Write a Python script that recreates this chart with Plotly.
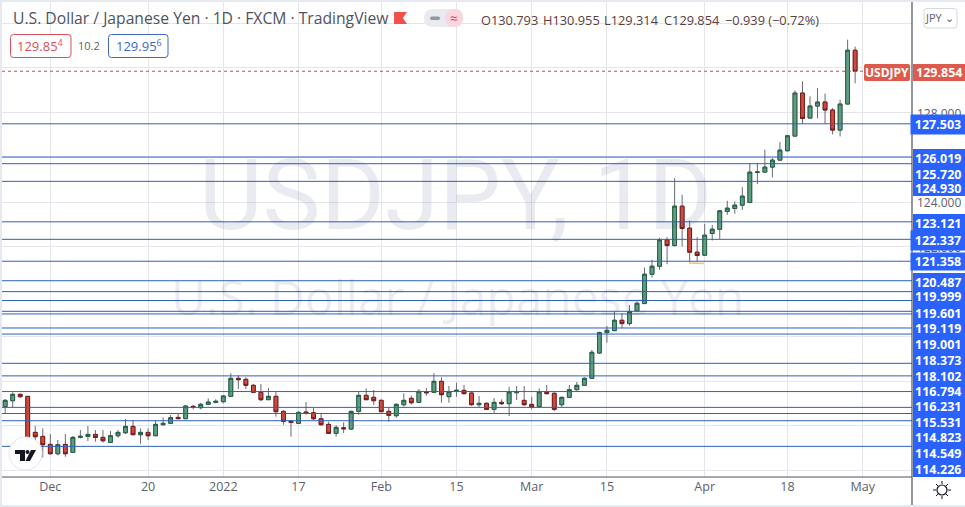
import pandas as pd
import plotly.graph_objects as go

dates = [d.strftime("%Y-%m-%d") for d in pd.bdate_range("2021-11-23", "2022-05-02")]

opens = [
    114.854, 115.122, 115.406, 115.316, 113.705, 113.526, 113.168, 112.750, 113.168, 112.810,
    113.481, 113.526, 113.615, 113.481, 113.257, 113.556, 113.690, 113.973, 113.600, 113.705,
    113.556, 114.048, 114.108, 114.376, 114.317, 114.869, 114.809, 114.958, 115.048, 115.078,
    115.316, 116.122, 116.077, 115.809, 115.495, 115.167, 115.316, 114.645, 114.212, 114.108,
    114.615, 114.585, 114.317, 114.063, 113.660, 113.914, 113.854, 114.645, 115.361, 115.272,
    115.137, 114.645, 114.451, 114.943, 115.227, 115.048, 115.510, 115.495, 115.988, 115.301,
    115.540, 115.585, 115.466, 114.943, 115.003, 114.734, 115.048, 114.988, 115.480, 115.137,
    114.958, 114.854, 115.495, 115.451, 114.943, 115.272, 115.615, 115.809, 116.122, 117.256,
    118.166, 118.256, 118.718, 118.569, 119.136, 119.464, 120.777, 121.135, 122.314, 122.060,
    123.821, 122.836, 121.762, 121.628, 122.597, 122.791, 123.582, 123.717, 123.866, 123.985,
    125.330, 125.343, 125.567, 125.880, 126.298, 126.954, 128.879, 127.760, 128.297, 128.476,
    128.118, 127.223, 128.387, 130.793,
]
highs = [
    115.197, 115.495, 115.451, 115.331, 113.988, 113.884, 113.630, 113.362, 113.630, 113.541,
    113.809, 113.988, 113.809, 113.809, 113.765, 113.809, 114.302, 114.257, 113.884, 113.884,
    114.257, 114.376, 114.481, 114.555, 114.913, 114.928, 115.033, 115.227, 115.182, 115.376,
    116.346, 116.271, 116.167, 115.868, 115.868, 115.689, 115.525, 114.690, 114.257, 114.645,
    115.063, 114.809, 114.526, 114.182, 114.033, 114.152, 114.675, 115.525, 115.674, 115.600,
    115.182, 114.809, 115.003, 115.451, 115.346, 115.630, 115.689, 116.346, 116.167, 115.779,
    115.928, 115.824, 115.495, 115.331, 115.048, 115.242, 115.182, 115.734, 115.779, 115.779,
    115.301, 115.674, 115.824, 115.495, 115.301, 115.824, 115.958, 116.167, 117.390, 118.211,
    118.464, 119.091, 119.031, 119.404, 119.554, 121.076, 121.419, 122.403, 122.433, 125.074,
    124.328, 123.179, 122.433, 123.030, 122.985, 123.657, 124.060, 124.030, 124.671, 125.746,
    125.746, 126.343, 125.970, 126.686, 127.014, 128.998, 129.401, 128.730, 129.103, 128.849,
    128.208, 128.581, 131.267, 130.955,
]
lows = [
    114.555, 114.824, 115.257, 113.287, 113.287, 112.586, 112.720, 112.675, 112.616, 112.810,
    113.436, 113.317, 113.287, 113.242, 113.242, 113.466, 113.630, 113.600, 113.198, 113.362,
    113.556, 114.003, 114.108, 114.302, 114.317, 114.734, 114.734, 114.958, 115.003, 115.003,
    115.301, 115.645, 115.645, 115.480, 115.092, 115.152, 114.406, 114.048, 113.511, 114.093,
    114.496, 114.257, 114.003, 113.630, 113.511, 113.675, 113.824, 114.496, 115.152, 114.928,
    114.630, 114.182, 114.361, 114.854, 114.943, 115.048, 115.346, 115.495, 115.033, 115.033,
    115.301, 115.406, 114.899, 114.824, 114.719, 114.570, 114.928, 114.436, 115.152, 114.884,
    114.734, 114.824, 115.406, 114.660, 114.824, 115.242, 115.570, 115.794, 116.107, 117.211,
    117.718, 118.226, 118.360, 118.479, 119.136, 119.464, 120.628, 120.971, 121.225, 122.016,
    122.016, 121.344, 121.344, 121.598, 122.284, 122.359, 123.433, 123.478, 123.657, 123.985,
    124.806, 125.343, 125.104, 125.850, 126.268, 126.954, 127.506, 127.745, 127.745, 127.506,
    127.029, 126.939, 128.387, 129.314,
]
closes = [
    115.137, 115.406, 115.301, 113.377, 113.511, 113.153, 112.750, 113.153, 112.750, 113.481,
    113.526, 113.615, 113.481, 113.332, 113.556, 113.705, 113.973, 113.600, 113.705, 113.556,
    114.063, 114.108, 114.361, 114.317, 114.884, 114.839, 114.958, 115.063, 115.092, 115.331,
    116.122, 116.062, 115.809, 115.495, 115.167, 115.316, 114.630, 114.197, 114.152, 114.600,
    114.555, 114.317, 114.048, 113.660, 113.929, 113.869, 114.645, 115.361, 115.167, 115.122,
    114.630, 114.466, 114.958, 115.137, 115.033, 115.540, 115.480, 115.988, 115.391, 115.525,
    115.585, 115.436, 114.943, 115.003, 114.734, 115.048, 114.988, 115.510, 115.525, 114.943,
    114.839, 115.510, 115.436, 114.734, 115.272, 115.615, 115.809, 116.122, 117.286, 118.166,
    118.270, 118.718, 118.569, 119.106, 119.479, 120.777, 121.135, 122.314, 122.060, 123.821,
    122.821, 121.762, 121.613, 122.523, 122.791, 123.612, 123.731, 123.866, 124.269, 125.343,
    125.350, 125.567, 125.880, 126.328, 126.969, 128.879, 127.745, 128.297, 128.476, 128.118,
    127.223, 128.387, 130.793, 129.854,
]

# levels drawn on the chart, the last one has no visible label on the axis
levels = [
    127.503, 126.019, 125.720, 124.930, 123.121, 122.337, 121.358, 120.487, 119.999, 119.601,
    119.119, 119.001, 118.373, 118.102, 116.794, 116.231, 115.531, 114.823, 114.549, 114.226,
    113.080,
]
level_labels = [
    "127.503", "126.019", "125.720", "124.930", "123.121", "122.337", "121.358", "120.487",
    "119.999", "119.601", "119.119", "119.001", "118.373", "118.102", "116.794", "116.231",
    "115.531", "114.823", "114.549", "114.226",
]
# stacked label centres in the price scale column
level_label_y = [125, 158, 174, 188, 223, 240, 262, 282, 297, 313, 328, 344, 360, 376, 391, 406, 422, 437, 453, 469]

tick_dates = ["2021-12-01", "2021-12-20", "2022-01-03", "2022-01-17", "2022-02-01", "2022-02-15",
              "2022-03-01", "2022-03-15", "2022-04-01", "2022-04-18", "2022-05-02"]
tick_labels = ["Dec", "20", "2022", "17", "Feb", "15", "Mar", "15", "Apr", "18", "May"]

W, H = 965, 507
LEFT, RIGHT, TOP, BOTTOM = 2, 912, 2, 477
GREY = "#5d606b"
BLUE = "#2962ff"
LINE_BLUE = "#2f5fbd"
RED_LABEL = "#dd5a4c"
FONT = "Open Sans"


def px_x(x):
    return (x - LEFT) / (RIGHT - LEFT)


def px_y(y):
    return (BOTTOM - y) / (BOTTOM - TOP)


def pt(x, y):
    return f"{px_x(x):.5f},{px_y(y):.5f}"


def rect(x0, y0, x1, y1, **kw):
    kw.setdefault("line_width", 0)
    return dict(type="rect", xref="paper", yref="paper", x0=px_x(x0), x1=px_x(x1), y0=px_y(y0), y1=px_y(y1), **kw)


def rounded(x0, y0, x1, y1, r, fill, line=None):
    path = (
        f"M{pt(x0 + r, y0)} L{pt(x1 - r, y0)} Q{pt(x1, y0)} {pt(x1, y0 + r)} L{pt(x1, y1 - r)} "
        f"Q{pt(x1, y1)} {pt(x1 - r, y1)} L{pt(x0 + r, y1)} Q{pt(x0, y1)} {pt(x0, y1 - r)} "
        f"L{pt(x0, y0 + r)} Q{pt(x0, y0)} {pt(x0 + r, y0)} Z"
    )
    return dict(type="path", xref="paper", yref="paper", path=path, fillcolor=fill, layer="above",
                line=dict(color=line or fill, width=1 if line else 0))


def seg(x0, y0, x1, y1, color, width=1, dash=None, layer="above"):
    return dict(type="line", xref="paper", yref="paper", x0=px_x(x0), x1=px_x(x1), y0=px_y(y0), y1=px_y(y1),
                line=dict(color=color, width=width, dash=dash), layer=layer)


def poly(points, color):
    path = "M" + " L".join(pt(x, y) for x, y in points) + " Z"
    return dict(type="path", xref="paper", yref="paper", path=path, fillcolor=color, line_width=0, layer="above")


def label(x, y, text, color=GREY, size=12, anchor="center", **kw):
    return dict(xref="paper", yref="paper", x=px_x(x), y=px_y(y), text=text, showarrow=False,
                xanchor=anchor, yanchor="middle", font=dict(family=FONT, size=size, color=color), **kw)


fig = go.Figure()

# wicks first, bodies on top so that the outline can differ from the wick colour
fig.add_trace(go.Candlestick(
    x=dates[:len(opens)], open=opens, high=highs, low=lows, close=closes,
    increasing=dict(line=dict(color="#666a72", width=1), fillcolor="#666a72"),
    decreasing=dict(line=dict(color="#666a72", width=1), fillcolor="#666a72"),
    hoverinfo="skip", showlegend=False,
))
body_high = [max(o, c) for o, c in zip(opens, closes)]
body_low = [min(o, c) for o, c in zip(opens, closes)]
fig.add_trace(go.Candlestick(
    x=dates[:len(opens)], open=opens, high=body_high, low=body_low, close=closes,
    increasing=dict(line=dict(color="#245f45", width=1), fillcolor="#5f9e80"),
    decreasing=dict(line=dict(color="#7a1a1a", width=1), fillcolor="#d04b3d"),
    hoverinfo="skip", showlegend=False,
))

shapes = [
    rect(LEFT, TOP, W, 505, fillcolor="white", layer="below"),
]
for lv in levels:
    shapes.append(dict(type="line", xref="paper", yref="y", x0=0, x1=1, y0=lv, y1=lv,
                       line=dict(color=LINE_BLUE, width=1), layer="above"))

# last price line and orange marker under the april low
shapes.append(dict(type="line", xref="paper", yref="y", x0=0, x1=px_x(864), y0=closes[-1], y1=closes[-1],
                   line=dict(color="#b5544c", width=1, dash="dot"), layer="above"))
shapes.append(seg(689, 263, 704, 263.5, "#f3c27c", 1.5))

# axis frames
shapes.append(seg(LEFT, BOTTOM, RIGHT, BOTTOM, "#50535e", 1.2))
shapes.append(seg(RIGHT, TOP, RIGHT, 505, "#50535e", 1.2))

# price scale blocks
shapes.append(rect(913, 149, W, 196, fillcolor=BLUE, layer="above"))
shapes.append(rect(913, 214, W, 245, fillcolor=BLUE, layer="above"))
shapes.append(rect(913, 273, W, 477, fillcolor=BLUE, layer="above"))
shapes.append(rounded(864, 64, 910, 81, 2, RED_LABEL))
shapes.append(rect(913, 64, W, 81, fillcolor=RED_LABEL, layer="above"))

# boxes top left
shapes.append(rounded(10.5, 34.5, 71, 57.5, 3, "white", "#d9505a"))
shapes.append(rounded(108.5, 34.5, 168, 57.5, 3, "white", "#3f67c8"))

# jpy button
shapes.append(rounded(924, 8.5, 957, 28, 3, "white", "#d5d8df"))

# flag and pill in the header
shapes.append(poly([(394, 12), (407, 12), (403, 18), (407, 24), (394, 24)], "#f0524b"))
shapes.append(rounded(424, 9, 463, 27, 9, "#e9ebf0"))
shapes.append(rounded(445, 9, 463, 27, 9, "#fbd5e0"))
shapes.append(rounded(430, 16.5, 440, 20, 1.7, "#9598a1"))

# tradingview badge
shapes.append(dict(type="circle", xref="paper", yref="paper", x0=px_x(9), x1=px_x(42), y0=px_y(437), y1=px_y(470),
                   fillcolor="white", line=dict(color="#e6e7eb", width=1), layer="above"))
shapes.append(poly([(15, 450), (25, 450), (25, 461), (20, 461), (20, 454), (15, 454)], "#131722"))
shapes.append(poly([(31, 450), (36, 450), (30, 461), (25.5, 461)], "#131722"))
shapes.append(dict(type="circle", xref="paper", yref="paper", x0=px_x(25.5), x1=px_x(29.5), y0=px_y(450), y1=px_y(454),
                   fillcolor="#131722", line_width=0, layer="above"))

# sun icon
shapes.append(dict(type="circle", xref="paper", yref="paper", x0=px_x(937), x1=px_x(947), y0=px_y(485), y1=px_y(495),
                   fillcolor="white", line=dict(color="#131722", width=1.2), layer="above"))
for (a, b, c, d) in [(942, 481, 942, 484), (942, 496, 942, 499), (933, 490, 936, 490), (948, 490, 951, 490),
                     (936, 484, 938, 486), (946, 494, 948, 496), (948, 484, 946, 486), (938, 494, 936, 496)]:
    shapes.append(seg(a, b, c, d, "#131722", 1))

WATERMARK = "rgba(42,58,120,0.10)"
annotations = [
    # watermark
    dict(label(456, 196, "USDJPY, 1D", color=WATERMARK, size=98), font=dict(family="Roboto", size=98, color=WATERMARK)),
    label(457, 297, "U.S. Dollar / Japanese Yen", color=WATERMARK, size=48),
    # header
    label(11, 18, "U.S. Dollar / Japanese Yen · 1D · FXCM · TradingView", size=15.7, color="#50535e", anchor="left"),
    label(453.5, 18, "≈", size=13, color="#d63864", anchor="center"),
    label(479, 19.5, "O130.793", size=12.8, color="#5a4040", anchor="left"),
    label(541, 19.5, "H130.955", size=12.8, color="#5a4040", anchor="left"),
    label(602, 19.5, "L129.314", size=12.8, color="#5a4040", anchor="left"),
    label(662, 19.5, "C129.854", size=12.8, color="#5a4040", anchor="left"),
    label(723, 19.5, "−0.939 (−0.72%)", size=12.8, color="#5a4040", anchor="left"),
    label(40.5, 46, "129.85<sup>4</sup>", size=13, color="#d9505a"),
    label(89, 46, "10.2", size=11, color=GREY),
    label(138.5, 46, "129.95<sup>6</sup>", size=13, color="#3f67c8"),
    label(940, 18, "JPY ⌄", size=11, color=GREY),
    # current price
    label(887, 72.5, "<b>USDJPY</b>", size=12, color="white"),
    label(939, 72.5, "<b>129.854</b>", size=12.5, color="white"),
    # covered axis ticks
    label(939, 113, "128.000", size=12, color=GREY),
    label(939, 202, "124.000", size=12, color=GREY),
    label(939, 248, "122.000", size=12, color=GREY),
]
for text, y in zip(level_labels, level_label_y):
    if text in ("127.503", "122.337", "121.358"):
        annotations.append(label(938.5, y, f"<b>{text}</b>", size=12.5, color="white", bgcolor=BLUE, width=52,
                                 height=17 if text != "121.358" else 15))
    else:
        annotations.append(label(938.5, y, f"<b>{text}</b>", size=12.5, color="white"))

fig.update_layout(
    width=W, height=H,
    margin=dict(l=LEFT, r=W - RIGHT, t=TOP, b=H - BOTTOM),
    paper_bgcolor="#e6e9f0",
    plot_bgcolor="white",
    showlegend=False,
    boxgap=0.28,
    shapes=shapes,
    annotations=annotations,
    font=dict(family=FONT, color=GREY, size=12),
    xaxis=dict(
        type="category", categoryorder="array", categoryarray=dates,
        range=[-0.42, 120.56],
        tickmode="array", tickvals=tick_dates, ticktext=tick_labels,
        showgrid=True, gridcolor="#e4e6ec", gridwidth=1,
        ticks="", rangeslider=dict(visible=False), tickfont=dict(size=12.5, color=GREY),
        zeroline=False, showline=False,
    ),
    yaxis=dict(
        range=[111.71, 132.95], dtick=2, showgrid=True, gridcolor="#e4e6ec", gridwidth=1,
        showticklabels=False, ticks="", zeroline=False, showline=False,
    ),
)

# the page body margin would shift the fixed size figure
fig.write_html("out.html", config={"displayModeBar": False}, post_script="document.body.style.margin='0';")
